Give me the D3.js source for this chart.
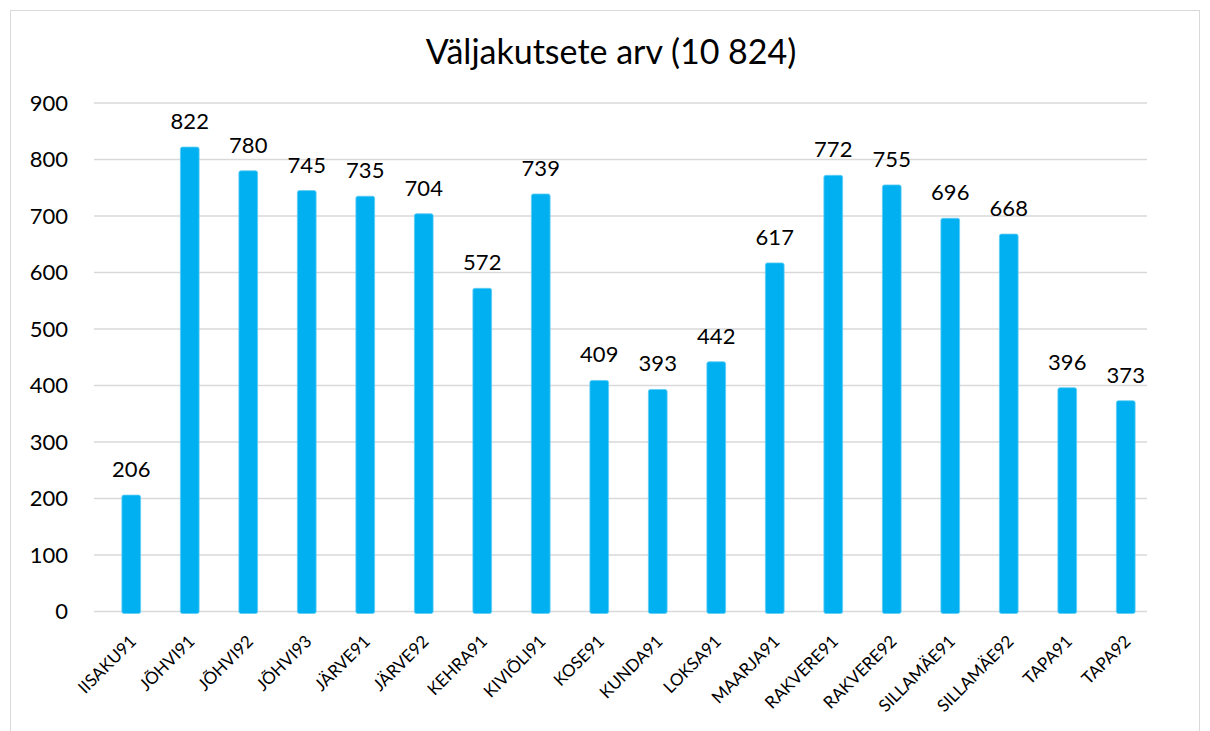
<!DOCTYPE html>
<html>
<head>
<meta charset="utf-8">
<script src="https://cdn.jsdelivr.net/npm/d3@7"></script>
<style>
  body { margin: 0; background: #fff; }
  text { font-family: Lato, "Open Sans", sans-serif; fill: #000; }
</style>
</head>
<body>
<div id="viz"></div>
<script>
var svg_width = 1210;
var svg_height = 731;

var categories = ['IISAKU91', 'JÕHVI91', 'JÕHVI92', 'JÕHVI93', 'JÄRVE91', 'JÄRVE92', 'KEHRA91', 'KIVIÕLI91', 'KOSE91',
  'KUNDA91', 'LOKSA91', 'MAARJA91', 'RAKVERE91', 'RAKVERE92', 'SILLAMÄE91', 'SILLAMÄE92', 'TAPA91', 'TAPA92'];
var values = [206, 822, 780, 745, 735, 704, 572, 739, 409, 393, 442, 617, 772, 755, 696, 668, 396, 373];
var y_ticks = [0, 100, 200, 300, 400, 500, 600, 700, 800, 900];
var title = 'Väljakutsete arv (10 824)';

var grid_left = 94, grid_right = 1147;

var svg = d3.select('#viz')
.append('svg')
.attr('width', svg_width)
.attr('height', svg_height);

// chart frame
svg.append('rect')
.attr('x', 10.5).attr('y', 10.5)
.attr('width', 1189).attr('height', 730)
.attr('fill', 'none')
.attr('stroke', '#d9d9d9');

var x = d3.scaleBand()
.domain(categories)
.range([102, 1155])
.paddingInner(0.68)
.paddingOuter(0.34);

var y = d3.scaleLinear()
.domain([0, 900])
.range([611.5, 103]);

// gridlines
svg.append('g')
.selectAll('line')
.data(y_ticks)
.enter()
.append('line')
.attr('x1', grid_left)
.attr('x2', grid_right)
.attr('y1', d => y(d))
.attr('y2', d => y(d))
.attr('stroke', '#d9d9d9')
.attr('stroke-width', 1.5);

// y labels
svg.append('g')
.selectAll('text')
.data(y_ticks)
.enter()
.append('text')
.text(d => d)
.attr('x', 68)
.attr('y', d => y(d))
.attr('dy', '0.36em')
.attr('text-anchor', 'end')
.attr('font-size', '22px');

// bars
svg.selectAll('rect.bar')
.data(values)
.enter()
.append('rect')
.attr('class', 'bar')
.attr('x', (d, i) => x(categories[i]))
.attr('y', d => y(d))
.attr('width', x.bandwidth())
.attr('height', d => y(0) - y(d) + 2)
.attr('rx', 2)
.attr('fill', '#00b0f0')
.attr('stroke', '#5fcdf5')
.attr('stroke-width', 0.8);

// value labels
svg.selectAll('text.val')
.data(values)
.enter()
.append('text')
.attr('class', 'val')
.text(d => d)
.attr('text-anchor', 'middle')
.attr('x', (d, i) => x(categories[i]) + x.bandwidth() / 2)
.attr('y', d => y(d) - 18)
.attr('font-size', '22px');

// x labels
svg.selectAll('text.cat')
.data(categories)
.enter()
.append('text')
.attr('class', 'cat')
.text(d => d)
.attr('text-anchor', 'end')
.attr('font-size', '17px')
.attr('transform', d => 'translate(' + (x(d) + x.bandwidth() / 2 + 6) + ',' + (y(0) + 31) + ') rotate(-45)');

// title
svg.append('text')
.text(title)
.attr('x', 611)
.attr('y', 64)
.attr('text-anchor', 'middle')
.attr('font-size', '34px');
</script>
</body>
</html>
